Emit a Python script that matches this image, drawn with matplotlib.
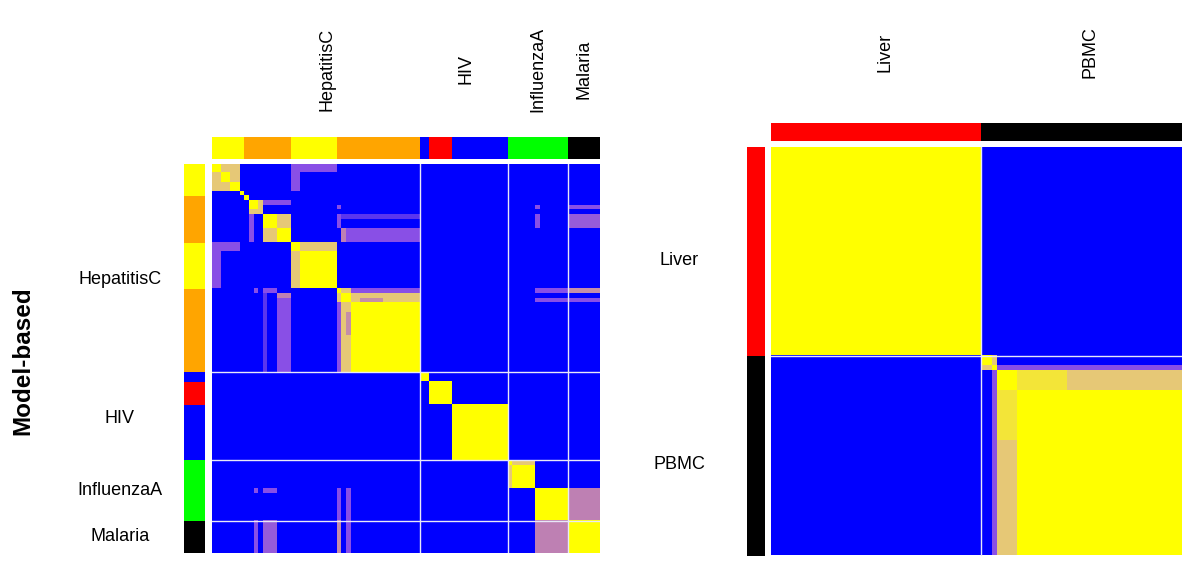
import numpy as np
import matplotlib
matplotlib.use("Agg")
import matplotlib.pyplot as plt
from matplotlib.colors import LinearSegmentedColormap
from matplotlib import transforms

plt.rcParams['font.family'] = ['Liberation Sans', 'DejaVu Sans']

# ---- left panel: virus groups (samples in row/column order) ----
left_groups = ["HepatitisC", "HIV", "InfluenzaA", "Malaria"]
left_group_sizes = [45, 19, 13, 7]
# annotation bar runs (subtype colour, number of samples)
left_bar_colors = ["yellow", "orange", "yellow", "orange", "blue", "red", "blue", "lime", "black"]
left_bar_lengths = [7, 10, 10, 18, 2, 5, 12, 13, 7]
# consensus blocks (row0, row1, col0, col1, value), mirrored across the diagonal
left_blocks = [
    # HepatitisC clusters
    (0, 6, 0, 6, 0.75), (0, 2, 0, 2, 1.0), (2, 4, 2, 4, 1.0), (4, 6, 4, 6, 1.0),
    (6, 7, 6, 7, 1.0), (7, 8, 7, 8, 1.0),
    (8, 11, 8, 11, 0.75), (8, 10, 8, 10, 1.0), (8, 9, 11, 17, 0.3),
    (11, 17, 11, 17, 0.75), (11, 14, 11, 14, 1.0), (14, 17, 14, 17, 1.0),
    (17, 27, 17, 27, 0.75), (17, 19, 17, 19, 1.0), (19, 27, 19, 27, 1.0),
    (0, 2, 17, 27, 0.3), (2, 6, 17, 19, 0.3),
    (27, 45, 27, 45, 0.75), (27, 28, 27, 28, 1.0), (28, 30, 28, 30, 1.0),
    (30, 45, 30, 45, 1.0), (27, 28, 30, 45, 0.3), (29, 30, 32, 37, 0.55),
    (9, 10, 27, 28, 0.3), (11, 14, 27, 28, 0.3), (11, 12, 28, 45, 0.2),
    (14, 17, 28, 45, 0.3), (14, 17, 28, 29, 0.5),
    # HIV clusters
    (45, 47, 45, 47, 1.0), (47, 52, 47, 52, 1.0), (52, 64, 52, 64, 1.0),
    # InfluenzaA and Malaria clusters
    (64, 70, 64, 70, 0.75), (64, 65, 64, 65, 1.0), (65, 70, 65, 70, 1.0),
    (70, 77, 70, 77, 1.0), (77, 84, 77, 84, 1.0), (70, 77, 77, 84, 0.5),
    # cross-group streaks
    (9, 10, 77, 84, 0.3), (11, 14, 77, 84, 0.35),
    (9, 10, 70, 71, 0.3), (11, 14, 70, 71, 0.3),
    (27, 28, 70, 84, 0.3), (27, 28, 77, 84, 0.55), (29, 30, 70, 84, 0.3),
]

# ---- right panel: tissue groups ----
right_groups = ["Liver", "PBMC"]
right_group_sizes = [42, 40]
right_bar_colors = ["red", "black"]
right_bar_lengths = [42, 40]
right_blocks = [
    (0, 42, 0, 42, 1.0),
    (42, 44, 42, 44, 1.0), (42, 44, 44, 45, 0.75), (44, 45, 44, 45, 1.0),
    (44, 45, 45, 82, 0.3),
    (45, 82, 45, 82, 1.0), (45, 49, 49, 59, 0.88), (45, 49, 59, 82, 0.75),
]

cmap = LinearSegmentedColormap.from_list(
    "consensus",
    [(0.0, "#0000ff"), (0.3, "#8a50e6"), (0.5, "#be80b4"),
     (0.75, "#e6c878"), (1.0, "#ffff00")])


def build_matrix(sizes, blocks):
    n = sum(sizes)
    m = np.zeros((n, n))
    for r0, r1, c0, c1, v in blocks:
        m[r0:r1, c0:c1] = v
        m[c0:c1, r0:r1] = v
    return m


def draw_panel(fig, rect, top_rect, side_rect, groups, sizes, bar_colors, bar_lengths,
               blocks, top_label_y, side_label_x, label_shift):
    m = build_matrix(sizes, blocks)
    n = m.shape[0]
    edges = np.cumsum(sizes)
    centers = edges - np.array(sizes) / 2 + np.array(label_shift)

    ax = fig.add_axes(rect)
    ax.imshow(m, cmap=cmap, vmin=0, vmax=1, interpolation="nearest",
              aspect="auto", extent=(0, n, n, 0))
    for e in edges[:-1]:
        ax.axvline(e, color="#e8e8f8", lw=1.0)
        ax.axhline(e, color="#e8e8f8", lw=1.0)
    ax.set_xlim(0, n)
    ax.set_ylim(n, 0)
    ax.axis("off")

    # column annotation bar
    axt = fig.add_axes(top_rect)
    lefts = np.concatenate([[0], np.cumsum(bar_lengths)[:-1]])
    axt.barh(0, bar_lengths, left=lefts, color=bar_colors, height=1, linewidth=0)
    axt.set_xlim(0, n)
    axt.set_ylim(-0.5, 0.5)
    axt.axis("off")

    # row annotation bar
    axs = fig.add_axes(side_rect)
    axs.bar(0, bar_lengths, bottom=lefts, color=bar_colors, width=1, linewidth=0)
    axs.set_ylim(n, 0)
    axs.set_xlim(-0.5, 0.5)
    axs.axis("off")

    tr_top = transforms.blended_transform_factory(ax.transData, fig.transFigure)
    tr_side = transforms.blended_transform_factory(fig.transFigure, ax.transData)
    for name, c in zip(groups, centers):
        fig.text(c, top_label_y, name, transform=tr_top, rotation=90,
                 ha="center", va="center", fontsize=13)
        fig.text(side_label_x, c, name, transform=tr_side,
                 ha="center", va="center", fontsize=13)


W, H = 1200, 568
fig = plt.figure(figsize=(W / 100, H / 100), dpi=100)


def px_rect(x0, y0, x1, y1):
    return [x0 / W, 1 - y1 / H, (x1 - x0) / W, (y1 - y0) / H]


draw_panel(fig, px_rect(212, 164, 600, 553), px_rect(212, 137, 600, 159),
           px_rect(184, 164, 205.5, 553),
           left_groups, left_group_sizes, left_bar_colors, left_bar_lengths,
           left_blocks, 1 - 69 / H, 120 / W, [2.5, 0.5, 0, 0])

draw_panel(fig, px_rect(771, 147, 1181.5, 555.5), px_rect(771, 123, 1181.5, 141),
           px_rect(747, 147, 765, 555.5),
           right_groups, right_group_sizes, right_bar_colors, right_bar_lengths,
           right_blocks, 1 - 52 / H, 679 / W, [1.7, 1.8])

fig.text(23 / W, 1 - 361 / H, "Model-based", rotation=90, ha="center", va="center",
         fontsize=17.5, fontweight="bold")

fig.savefig("out.png", dpi=100, facecolor="white")
